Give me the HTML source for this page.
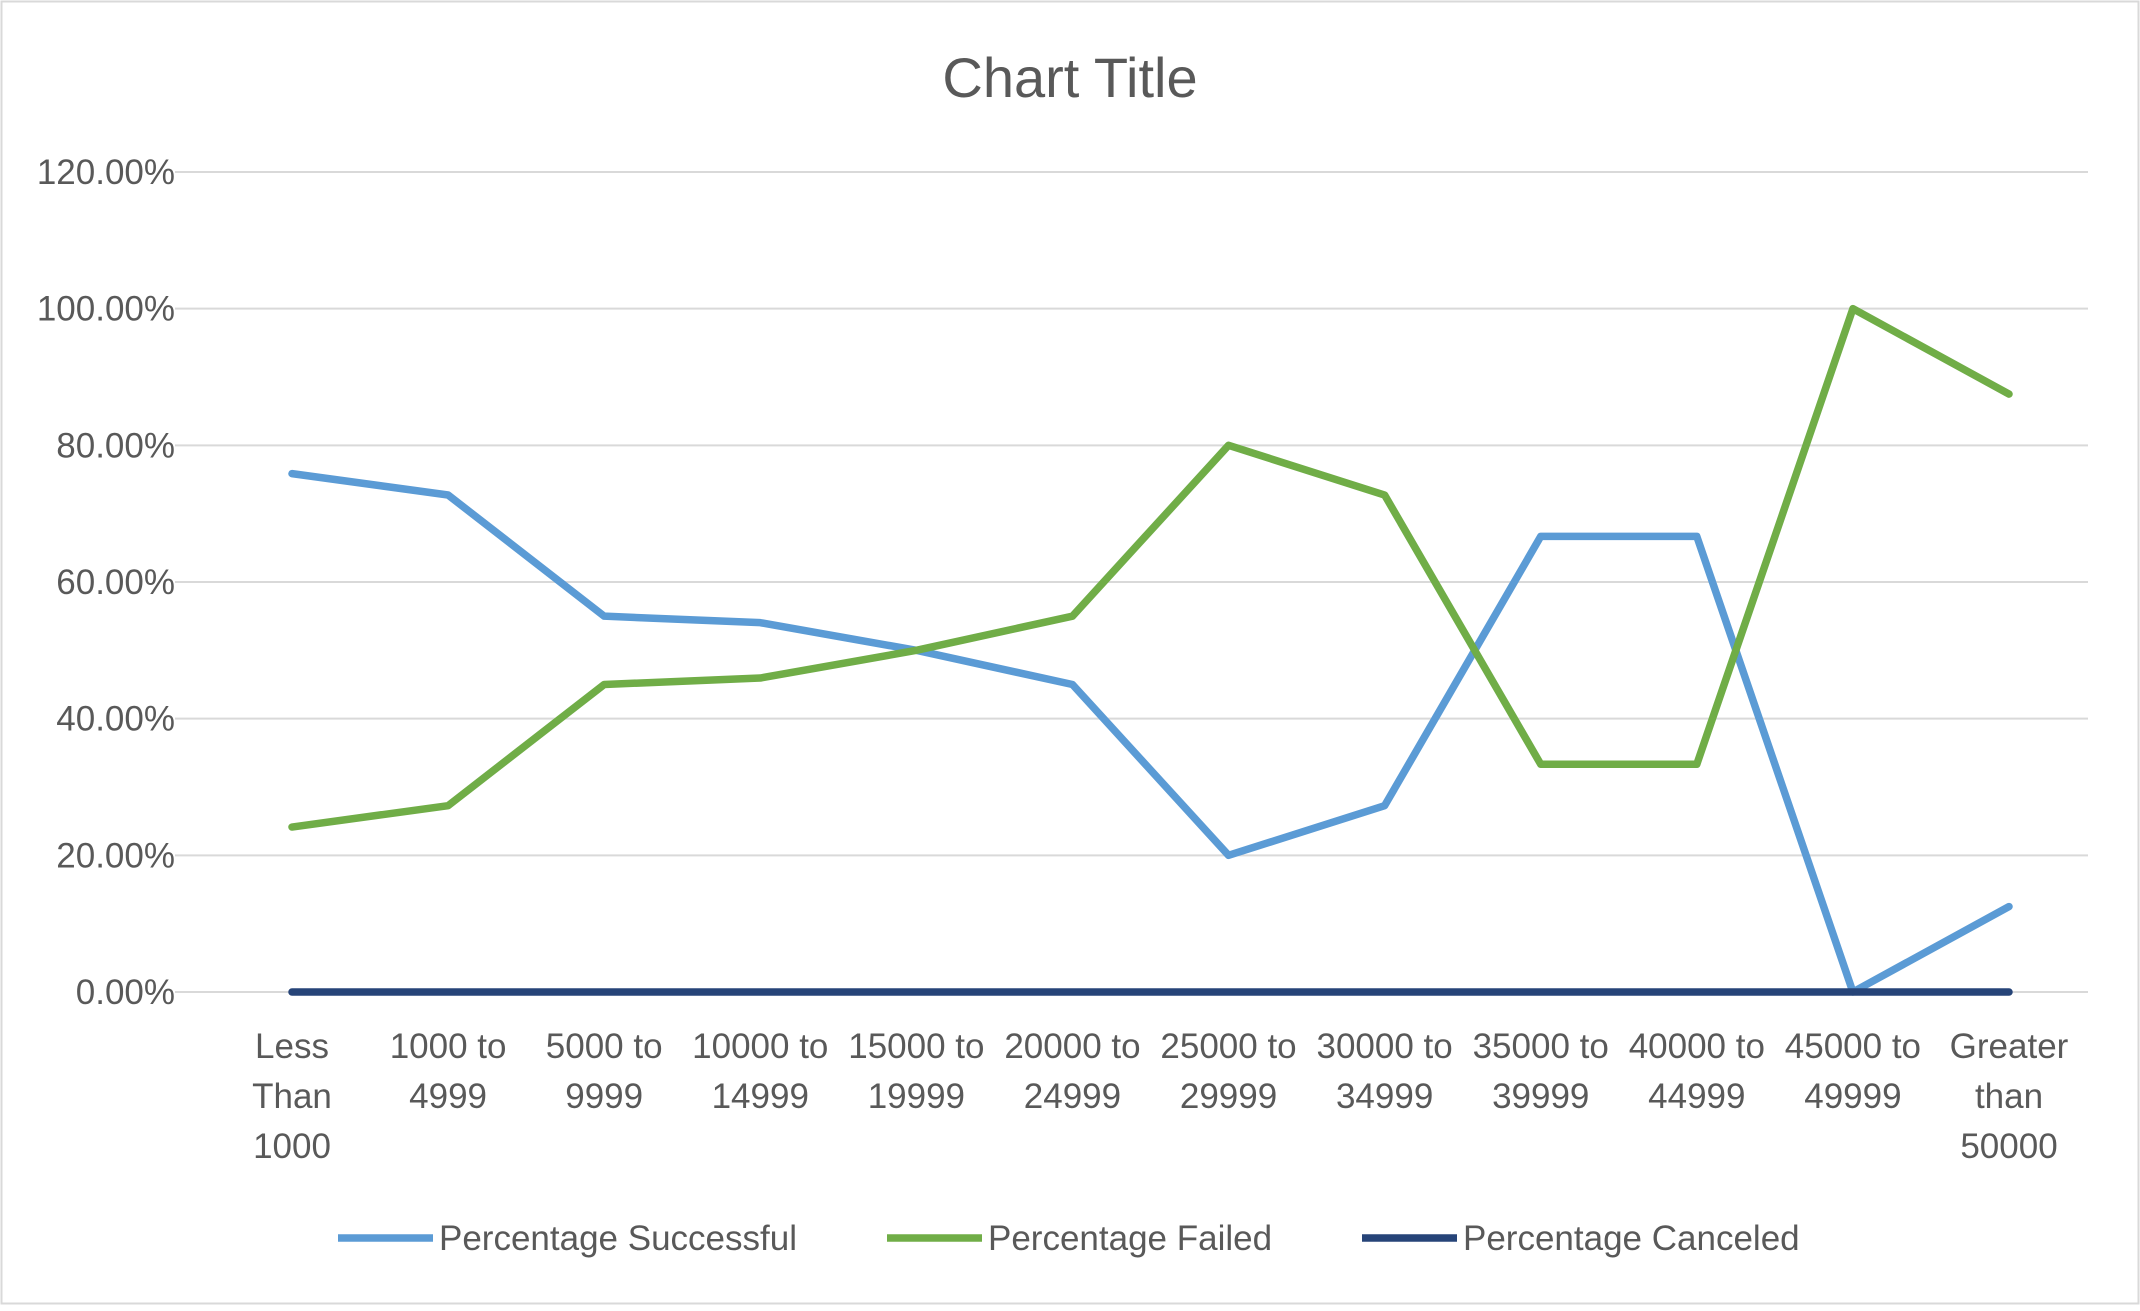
<!DOCTYPE html>
<html>
<head>
<meta charset="utf-8">
<style>
  html, body { margin: 0; padding: 0; background: #fff; }
  body { width: 2140px; height: 1306px; overflow: hidden; font-family: "Liberation Sans", sans-serif; }
  svg text { font-family: "Liberation Sans", sans-serif; fill: #595959; }
</style>
</head>
<body>
<svg id="chart" width="2140" height="1306" viewBox="0 0 2140 1306" xmlns="http://www.w3.org/2000/svg">
  <rect x="1.5" y="1.5" width="2137" height="1302" fill="#fff" stroke="#d9d9d9" stroke-width="2"/>
  <text x="1070" y="97" text-anchor="middle" font-size="56">Chart Title</text>
  <g id="grid"></g>
  <g id="yticks"></g>
  <g id="xticks"></g>
  <g id="series"></g>
  <g id="legend"></g>
</svg>
<script>
const categories = [["Less","Than","1000"],["1000 to","4999"],["5000 to","9999"],["10000 to","14999"],["15000 to","19999"],["20000 to","24999"],["25000 to","29999"],["30000 to","34999"],["35000 to","39999"],["40000 to","44999"],["45000 to","49999"],["Greater","than","50000"]];
const successful = [75.86, 72.73, 55, 54.05, 50, 45, 20, 27.27, 66.67, 66.67, 0, 12.5];
const failed = [24.14, 27.27, 45, 45.95, 50, 55, 80, 72.73, 33.33, 33.33, 100, 87.5];
const canceled = [0, 0, 0, 0, 0, 0, 0, 0, 0, 0, 0, 0];
const yTicks = [0, 20, 40, 60, 80, 100, 120];
const seriesNames = ["Percentage Successful", "Percentage Failed", "Percentage Canceled"];

const NS = "http://www.w3.org/2000/svg";
const plotL = 175, plotR = 2088, yTop = 172, yBot = 992;
const x0 = 292, x1 = 2009;
function xs(i) { return x0 + (x1 - x0) * i / (categories.length - 1); }
function ys(v) { return yBot - (yBot - yTop) * v / 120; }
function mk(tag, attrs, parent) {
  const e = document.createElementNS(NS, tag);
  for (const k in attrs) e.setAttribute(k, attrs[k]);
  parent.appendChild(e);
  return e;
}
const grid = document.getElementById('grid');
const yt = document.getElementById('yticks');
yTicks.forEach(v => {
  const l = mk('line', {x1: plotL, x2: plotR, y1: ys(v), y2: ys(v), stroke: '#d9d9d9', 'stroke-width': 2}, grid);
  
  
  const t = mk('text', {x: 175, y: ys(v) + 12, 'text-anchor': 'end', 'font-size': 35}, yt);
  t.textContent = v.toFixed(2) + '%';
  
  
});
const xt = document.getElementById('xticks');
categories.forEach((c, i) => {
  c.forEach((line, j) => {
    const t = mk('text', {x: xs(i), y: 1058 + j * 50, 'text-anchor': 'middle', 'font-size': 35}, xt);
    t.textContent = line;
    
    
  });
});
const sg = document.getElementById('series');
const colors = ['#5b9bd5', '#70ad47', '#264478'];
[successful, failed, canceled].forEach((arr, si) => {
  const pts = arr.map((v, i) => xs(i) + ',' + ys(v)).join(' ');
  const p = mk('polyline', {points: pts, fill: 'none', stroke: colors[si], 'stroke-width': 7.5, 'stroke-linejoin': 'round', 'stroke-linecap': 'round'}, sg);
  
  
});
const lg = document.getElementById('legend');
const legX = [338, 887, 1362];
seriesNames.forEach((n, i) => {
  const l = mk('line', {x1: legX[i], x2: legX[i] + 95, y1: 1238, y2: 1238, stroke: colors[i], 'stroke-width': 7.5}, lg);
  
  
  const t = mk('text', {x: legX[i] + 101, y: 1250, 'font-size': 35}, lg);
  t.textContent = n;
  
  
});
</script>
</body>
</html>
